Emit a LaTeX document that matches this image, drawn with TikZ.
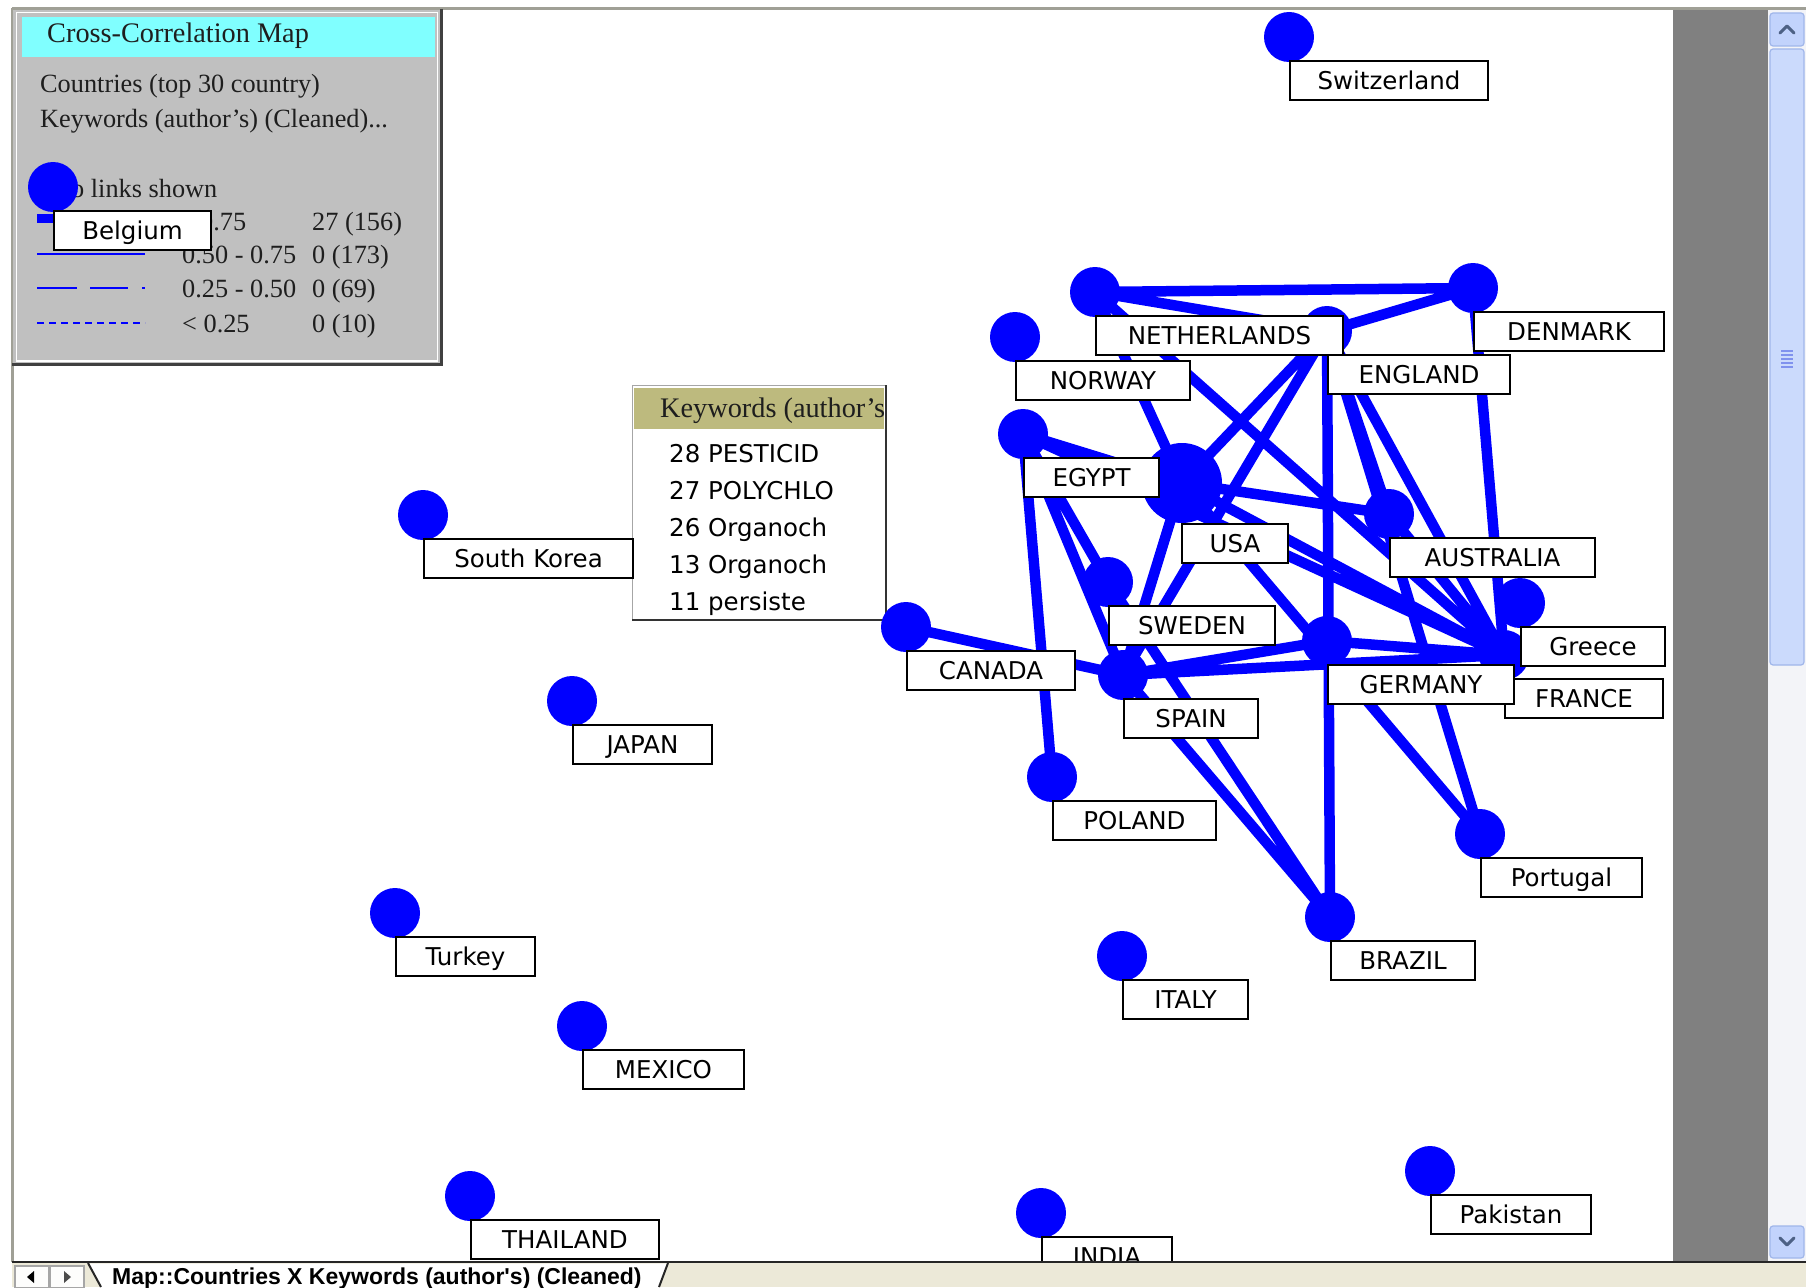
\documentclass[tikz,border=0pt]{standalone}
\usepackage{fontspec}
\setmainfont{Liberation Serif}
\newfontfamily\labfont{DejaVu Sans}
\newfontfamily\tabfont{Liberation Sans}
\definecolor{netblue}{RGB}{0,0,255}
\definecolor{framec}{RGB}{160,160,150}
\definecolor{legbg}{RGB}{192,192,192}
\definecolor{legcyan}{RGB}{128,255,255}
\definecolor{khaki}{RGB}{189,186,126}
\definecolor{bandgrey}{RGB}{128,128,128}
\definecolor{tabbg}{RGB}{236,233,216}
\definecolor{sbtrack}{RGB}{243,244,248}
\definecolor{sbbtn}{RGB}{194,211,252}
\definecolor{sbedge}{RGB}{160,182,234}
\definecolor{sbchev}{RGB}{77,97,133}
\definecolor{legtext}{RGB}{30,30,30}
\begin{document}
\begin{tikzpicture}[x=1pt,y=-1pt,
  dot/.style={circle, fill=netblue, inner sep=0pt, minimum size=50pt},
  lab/.style={draw=black, line width=2pt, fill=white, inner sep=0pt,
    minimum height=39pt, text height=17.9pt, text depth=0pt,
    anchor=north west, font=\labfont\fontsize{24.5}{28}\selectfont},
  link/.style={draw=netblue, line width=10.5pt},
  legtxt/.style={anchor=base west, inner sep=0pt, text=legtext,
    font=\fontsize{26.3}{30}\selectfont},
  headtxt/.style={anchor=base west, inner sep=0pt, text=legtext,
    font=\fontsize{28.3}{32}\selectfont},
  popitem/.style={anchor=base west, inner sep=0pt,
    font=\labfont\fontsize{24.5}{28}\selectfont},
  sbbox/.style={draw=sbedge, fill=sbbtn, line width=1.2pt, rounded corners=3pt},
  chev/.style={draw=sbchev, line width=3pt, line cap=round, line join=round}]
\useasboundingbox (0,0) rectangle (1806,1287);
\fill[white] (0,0) rectangle (1806,1287);

% window frame, grey band and scroll bar
\draw[framec, line width=3pt] (12,8.5) -- (1806,8.5);
\draw[framec, line width=3pt] (12.5,8) -- (12.5,1262);
\fill[bandgrey] (1673,10) rectangle (1768,1261);
\fill[sbtrack] (1768,10) rectangle (1806,1261);
\path[sbbox] (1770,13) rectangle (1804,46);
\draw[chev] (1780,33) -- (1787,26) -- (1794,33);
\path[sbbox, fill=sbbtn!85!white] (1770,49) rectangle (1804,665);
\foreach \gy in {351,355,359,363,367}
  \draw[sbedge!80!blue, line width=1.2pt] (1781,\gy) -- (1793,\gy);
\path[sbbox] (1770,1226) rectangle (1804,1258);
\draw[chev] (1780,1238) -- (1787,1245) -- (1794,1238);

% legend panel
\fill[legbg] (13,10) rectangle (441,364);
\draw[white, line width=1.8pt] (16.5,12.5) rectangle (437.5,361);
\draw[black!75, line width=3pt] (441.5,9) -- (441.5,366);
\draw[black!75, line width=3pt] (12,364.5) -- (443,364.5);
\fill[legcyan] (22,17) rectangle (435,57);
\node[headtxt] (legtitle) at (47,43) {Cross-Correlation Map};
\node[legtxt] (legrows) at (40,93) {Countries (top 30 country)};
\node[legtxt] (legcols) at (40,128) {Keywords (author's) (Cleaned)...};
\node[legtxt] (legshown) at (71,197) {o links shown};
\draw[netblue, line width=9pt] (37,218) -- (145,218);
\draw[netblue, line width=2.5pt] (37,254) -- (145,254);
\draw[netblue, line width=2.5pt, dash pattern=on 40pt off 13pt on 38pt off 14pt on 3pt off 20pt] (37,288) -- (145,288);
\draw[netblue, line width=2.5pt, dash pattern=on 7pt off 5pt] (37,323) -- (145,323);
\node[legtxt] (r1a) at (200,230) {0.75};
\node[legtxt] (r1b) at (312,230) {27 (156)};
\node[legtxt] (r2a) at (182,263) {0.50 - 0.75};
\node[legtxt] (r2b) at (312,263) {0 (173)};
\node[legtxt] (r3a) at (182,297) {0.25 - 0.50};
\node[legtxt] (r3b) at (312,297) {0 (69)};
\node[legtxt] (r4a) at (182,332) {< 0.25};
\node[legtxt] (r4b) at (312,332) {0 (10)};

\begin{scope}
\clip (13,10) rectangle (1673,1261);

% keyword pop-up
\fill[white] (632,385) rectangle (887,621);
\draw[gray!70, line width=1.5pt] (632.5,621) -- (632.5,385.5) -- (887,385.5);
\draw[black!80, line width=2pt] (886,385) -- (886,620) -- (632,620);
\fill[khaki] (634,388) rectangle (884,429);
\begin{scope}
\clip (634,388) rectangle (884,429);
\node[headtxt] (pophead) at (660,417) {Keywords (author's};
\end{scope}
\node[popitem] (k1) at (669,462) {28 PESTICID};
\node[popitem] (k2) at (669,499) {27 POLYCHLO};
\node[popitem] (k3) at (669,536) {26 Organoch};
\node[popitem] (k4) at (669,573) {13 Organoch};
\node[popitem] (k5) at (669,610) {11 persiste};

% country dots
\node[dot] (sw) at (1289,37) {};
\node[dot] (be) at (53,187) {};
\node[dot] (nl) at (1095,292) {};
\node[dot] (dk) at (1473,288) {};
\node[dot] (no) at (1015,337) {};
\node[dot] (en) at (1327,331) {};
\node[dot] (eg) at (1023,434) {};
\node[dot, minimum size=80pt] (us) at (1182,483) {};
\node[dot] (se) at (1108,582) {};
\node[dot] (ca) at (906,627) {};
\node[dot] (es) at (1123,675) {};
\node[dot] (de) at (1327,641) {};
\node[dot] (au) at (1389,514) {};
\node[dot] (gr) at (1520,603) {};
\node[dot] (fr) at (1504,655) {};
\node[dot] (pl) at (1052,777) {};
\node[dot] (pt) at (1480,834) {};
\node[dot] (br) at (1330,917) {};
\node[dot] (it) at (1122,956) {};
\node[dot] (kr) at (423,515) {};
\node[dot] (jp) at (572,701) {};
\node[dot] (tr) at (395,913) {};
\node[dot] (mx) at (582,1026) {};
\node[dot] (th) at (470,1196) {};
\node[dot] (in) at (1041,1213) {};
\node[dot] (pk) at (1430,1171) {};

% co-occurrence links
\path[link]
  (nl.center) -- (dk.center)
  (nl.center) -- (en.center)
  (en.center) -- (dk.center)
  (dk.center) -- (fr.center)
  (nl.center) -- (us.center)
  (nl.center) -- (fr.center)
  (en.center) -- (us.center)
  (en.center) -- (es.center)
  (en.center) -- (br.center)
  (en.center) -- (au.center)
  (en.center) -- (fr.center)
  (en.center) -- (pt.center)
  (eg.center) -- (us.center)
  (eg.center) -- (pl.center)
  (eg.center) -- (se.center)
  (eg.center) -- (es.center)
  (eg.center) -- (fr.center)
  (us.center) -- (fr.center)
  (us.center) -- (au.center)
  (us.center) -- (es.center)
  (us.center) -- (pt.center)
  (es.center) -- (de.center)
  (es.center) -- (fr.center)
  (ca.center) -- (es.center)
  (es.center) -- (br.center)
  (se.center) -- (br.center)
  (au.center) -- (fr.center)
  (de.center) -- (fr.center);

% country labels
\node[lab, minimum width=198pt] (swL) at ([yshift=-23pt]sw.center) {Switzerland};
\node[lab, minimum width=157pt] (beL) at ([yshift=-23pt]be.center) {Belgium};
\node[lab, minimum width=190pt] (dkL) at ([yshift=-23pt]dk.center) {DENMARK};
\node[lab, minimum width=182pt] (enL) at ([yshift=-23pt]en.center) {ENGLAND};
\node[lab, minimum width=247pt] (nlL) at ([yshift=-23pt]nl.center) {NETHERLANDS};
\node[lab, minimum width=174pt] (noL) at ([yshift=-23pt]no.center) {NORWAY};
\node[lab, minimum width=135pt] (egL) at ([yshift=-23pt]eg.center) {EGYPT};
\node[lab, minimum width=106pt] (usL) at ([xshift=-1pt,yshift=-40pt]us.center) {USA};
\node[lab, minimum width=205pt] (auL) at ([yshift=-23pt]au.center) {AUSTRALIA};
\node[lab, minimum width=166pt] (seL) at ([yshift=-23pt]se.center) {SWEDEN};
\node[lab, minimum width=168pt] (caL) at ([yshift=-23pt]ca.center) {CANADA};
\node[lab, minimum width=134pt] (esL) at ([yshift=-23pt]es.center) {SPAIN};
\node[lab, minimum width=144pt] (grL) at ([yshift=-23pt]gr.center) {Greece};
\node[lab, minimum width=158pt] (frL) at ([yshift=-23pt]fr.center) {FRANCE};
\node[lab, minimum width=186pt] (deL) at ([yshift=-23pt]de.center) {GERMANY};
\node[lab, minimum width=163pt] (plL) at ([yshift=-23pt]pl.center) {POLAND};
\node[lab, minimum width=161pt] (ptL) at ([yshift=-23pt]pt.center) {Portugal};
\node[lab, minimum width=144pt] (brL) at ([yshift=-23pt]br.center) {BRAZIL};
\node[lab, minimum width=125pt] (itL) at ([yshift=-23pt]it.center) {ITALY};
\node[lab, minimum width=209pt] (krL) at ([yshift=-23pt]kr.center) {South Korea};
\node[lab, minimum width=139pt] (jpL) at ([yshift=-23pt]jp.center) {JAPAN};
\node[lab, minimum width=139pt] (trL) at ([yshift=-23pt]tr.center) {Turkey};
\node[lab, minimum width=161pt] (mxL) at ([yshift=-23pt]mx.center) {MEXICO};
\node[lab, minimum width=188pt] (thL) at ([yshift=-23pt]th.center) {THAILAND};
\node[lab, minimum width=130pt] (inL) at ([yshift=-23pt]in.center) {INDIA};
\node[lab, minimum width=160pt] (pkL) at ([yshift=-23pt]pk.center) {Pakistan};
\end{scope}

% sheet tab bar
\fill[tabbg] (12,1263) rectangle (1806,1287);
\draw[black!85, line width=2.5pt] (12,1262) -- (1806,1262);
\fill[white] (88,1263.5) -- (101,1287) -- (659,1287) -- (668,1263.5) -- cycle;
\draw[black!85, line width=2pt] (88,1263) -- (101,1287);
\draw[black!85, line width=2pt] (668,1263) -- (659,1287);
\draw[gray!70, fill=white!92!tabbg, line width=1.2pt] (15,1266) rectangle (49,1288);
\draw[gray!70, fill=white!92!tabbg, line width=1.2pt] (50,1266) rectangle (84,1288);
\fill[black] (27,1277) -- (34,1271) -- (34,1283) -- cycle;
\fill[gray!60!black] (64,1271) -- (71,1277) -- (64,1283) -- cycle;
\node[anchor=base west, inner sep=0pt, font=\tabfont\bfseries\fontsize{23}{26}\selectfont] (tabname) at (112,1284.5) {Map::Countries X Keywords (author's) (Cleaned)};
\end{tikzpicture}
\end{document}
